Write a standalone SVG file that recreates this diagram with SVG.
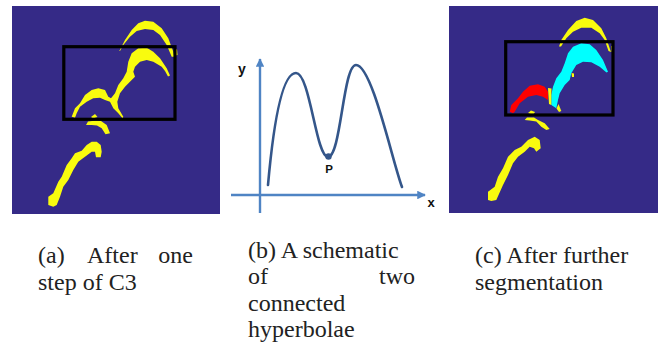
<svg xmlns="http://www.w3.org/2000/svg" width="670" height="348" viewBox="0 0 670 348">
<style>
.bg{fill:#352a87}
.yel{fill:#f9fb0e}
.cy{fill:#00ffff}
.rd{fill:#ff0000}
.box{fill:none;stroke:#000;stroke-width:3.2}
.axis{stroke:#4f84c4;stroke-width:2.4;fill:none}
.curve{stroke:#34568a;stroke-width:2.6;fill:none;stroke-linecap:round}
.lbl{font-family:"Liberation Sans",Arial,sans-serif;font-weight:bold;fill:#111}
.cap{font-family:"Liberation Serif","Times New Roman",serif;font-size:24px;fill:#222}
</style>
<defs>
<marker id="arr" viewBox="0 0 10 10" refX="9" refY="5" markerWidth="3.6" markerHeight="3.6" orient="auto" markerUnits="strokeWidth">
<path d="M0,0 L10,5 L0,10 Z" fill="#4f84c4"/>
</marker>
</defs>
<rect width="670" height="348" fill="#fff"/>

<g id="panel-a">
<rect class="bg" x="12" y="6" width="208" height="208"/>
<path class="yel" d="M119.3,51 L125,40 L131.7,30 L138.3,23.3 L145,20.7 L153.3,21.7 L161.7,28.3 L168.3,38.3 L173.3,51.7 L174.3,56.7 L171.7,56.7 L166.7,45 L160,35 L153.3,30 L145,29 L136.7,31 L130,36.7 L123.3,45 L120,51 Z"/>
<path class="yel" d="M71.7,116.7 L75,108.3 L80,103.3 L85,95 L91.7,90 L98.3,88.3 L105,90 L108.3,96.7 L111,98.3 L115,93.3 L118.3,85 L123.3,78.3 L126.7,71.7 L128.3,61.7 L131.7,53.3 L138.3,48.3 L146.7,47.7 L153.3,51.7 L160,58.3 L166.7,68.3 L170,75.5 L168,76.5 L165,71 L161.7,66.7 L153.3,61.7 L146.7,60 L140,61.7 L135,66.7 L133.3,71.7 L135,76.7 L131.7,80 L125,86.7 L120,93.3 L117.3,101.7 L118.3,108.3 L123.3,116.7 L122.7,118.5 L118.3,113.3 L113.3,108.3 L110,101.7 L105,100 L100,97.7 L93.3,98.3 L86.7,101.7 L80,106.7 L76.7,113.3 L75,117.7 Z"/>
<path class="yel" d="M91,117 L95,114 L97.5,117 L93,118.5 Z"/>
<path class="yel" d="M86,125 L88,121.5 L96,120.5 L101,121 L106.7,125 L110,133.3 L105.5,134.3 L101.7,128.3 L97,125.5 L91.7,125 Z"/>
<path class="yel" d="M48.3,205 L48.3,196.7 L53.3,193.3 L58.3,181.7 L61.7,176.7 L66.7,165 L71.7,158.3 L75,153.3 L81.7,150.7 L86.7,145 L91.7,141.7 L96.7,141.7 L100.7,145 L101.7,151.7 L100.7,157.3 L96,157.3 L95,151.7 L91.7,151.7 L85,156.7 L78.3,161.7 L73.3,170 L68.3,180 L63.3,186.7 L60,196.7 L56.7,205 L53.3,206.7 Z"/>
<path class="yel" d="M175,50 L177,49 L177.5,55 L175.5,55.5 Z"/>
<rect class="box" x="63.8" y="46.7" width="111.2" height="72.6"/>
</g>

<g id="panel-b">
<line class="axis" x1="260" y1="213" x2="260" y2="59" marker-end="url(#arr)"/>
<line class="axis" x1="231" y1="195" x2="425" y2="195" marker-end="url(#arr)"/>
<path class="curve" d="M268,185 C272,140 280,73 296,73 C310,73 316,157 328,157 C341,157 343,65 356,65 C372,65 392,160 402,187"/>
<circle cx="328.5" cy="156.5" r="3.2" fill="#34568a"/>
<text class="lbl" x="242" y="74" font-size="14" text-anchor="middle">y</text>
<text class="lbl" x="431" y="207" font-size="13" text-anchor="middle">x</text>
<text class="lbl" x="329" y="173" font-size="11.5" text-anchor="middle">P</text>
</g>

<g id="panel-c">
<rect class="bg" x="449" y="6" width="209" height="207"/>
<path class="yel" d="M559,46.5 L561.3,40 L568,30 L576.3,21 L584.7,17.7 L593,20 L601.3,28.3 L606.3,38.3 L609.7,48.3 L611,52 L608.5,51 L604.7,40 L599.7,33.3 L591.3,27.7 L581.3,27.7 L573,31.7 L566.3,38.3 L561,46.5 Z"/>
<path class="yel" d="M611,46 L613,46 L613.5,52 L611.5,52 Z"/>
<path class="cy" d="M608,71.7 L603,60 L596.3,50 L589.7,44.3 L581.3,43.3 L573,46.7 L568,53.3 L564.7,63.3 L561.3,71.7 L556.3,78.3 L553,86.7 L551.3,95 L551.3,105 L556.3,108.3 L558,100 L559.7,93.3 L564.7,85 L569.7,80 L571.3,73.3 L576.3,65 L583,61.7 L591.3,62.3 L599.7,66.7 L604.7,71 L606.5,72.5 Z"/>
<path class="yel" d="M548,88 L551.5,88.5 L551.3,95 L551.3,105 L549,104 Z"/>
<path class="yel" d="M556.5,108.5 L558.5,104 L561.3,111 L559,112 Z"/>
<path class="yel" d="M571.5,73 L574,73.5 L574,77 L572,77 Z"/>
<path class="rd" d="M509.7,111.7 L511.3,105 L518,98.3 L523,91.7 L529.7,85.7 L538,84.3 L544.7,86.7 L548,91.7 L548,100 L543,96.7 L536.3,95 L528,96.7 L519.7,103.3 L514.7,111.7 L513,113.3 Z"/>
<path class="yel" d="M528,113 L531,110.5 L535,112 L533,115 Z"/>
<path class="yel" d="M524.7,120 L527,117.5 L534,117.5 L538,120 L544.7,123.3 L549.7,129 L546.3,130 L541.3,126.7 L536.3,121.5 L529.7,120.5 Z"/>
<path class="yel" d="M488,200 L488,191.7 L494.7,186.7 L498,176.7 L503,168.3 L508,156.7 L514.7,150 L521.3,146.7 L528,140 L534.7,136.7 L539.7,140 L540.7,148.3 L536.3,151.7 L534,148.3 L529.7,146.7 L524.7,151.7 L518,156.7 L513,163.3 L508,175 L503,185 L496.3,200 L491.3,201 Z"/>
<rect class="box" x="505.7" y="41.7" width="107.3" height="73.3"/>
</g>

<g id="captions" class="cap">
<text x="38" y="263">(a)</text>
<text x="87" y="263">After</text>
<text x="193" y="263" text-anchor="end">one</text>
<text x="38" y="290">step of C3</text>
<text x="248" y="257.5">(b) A schematic</text>
<text x="248" y="284">of</text>
<text x="415" y="284" text-anchor="end">two</text>
<text x="248" y="310.5">connected</text>
<text x="248" y="337">hyperbolae</text>
<text x="475" y="263">(c) After further</text>
<text x="475" y="290">segmentation</text>
</g>
</svg>
